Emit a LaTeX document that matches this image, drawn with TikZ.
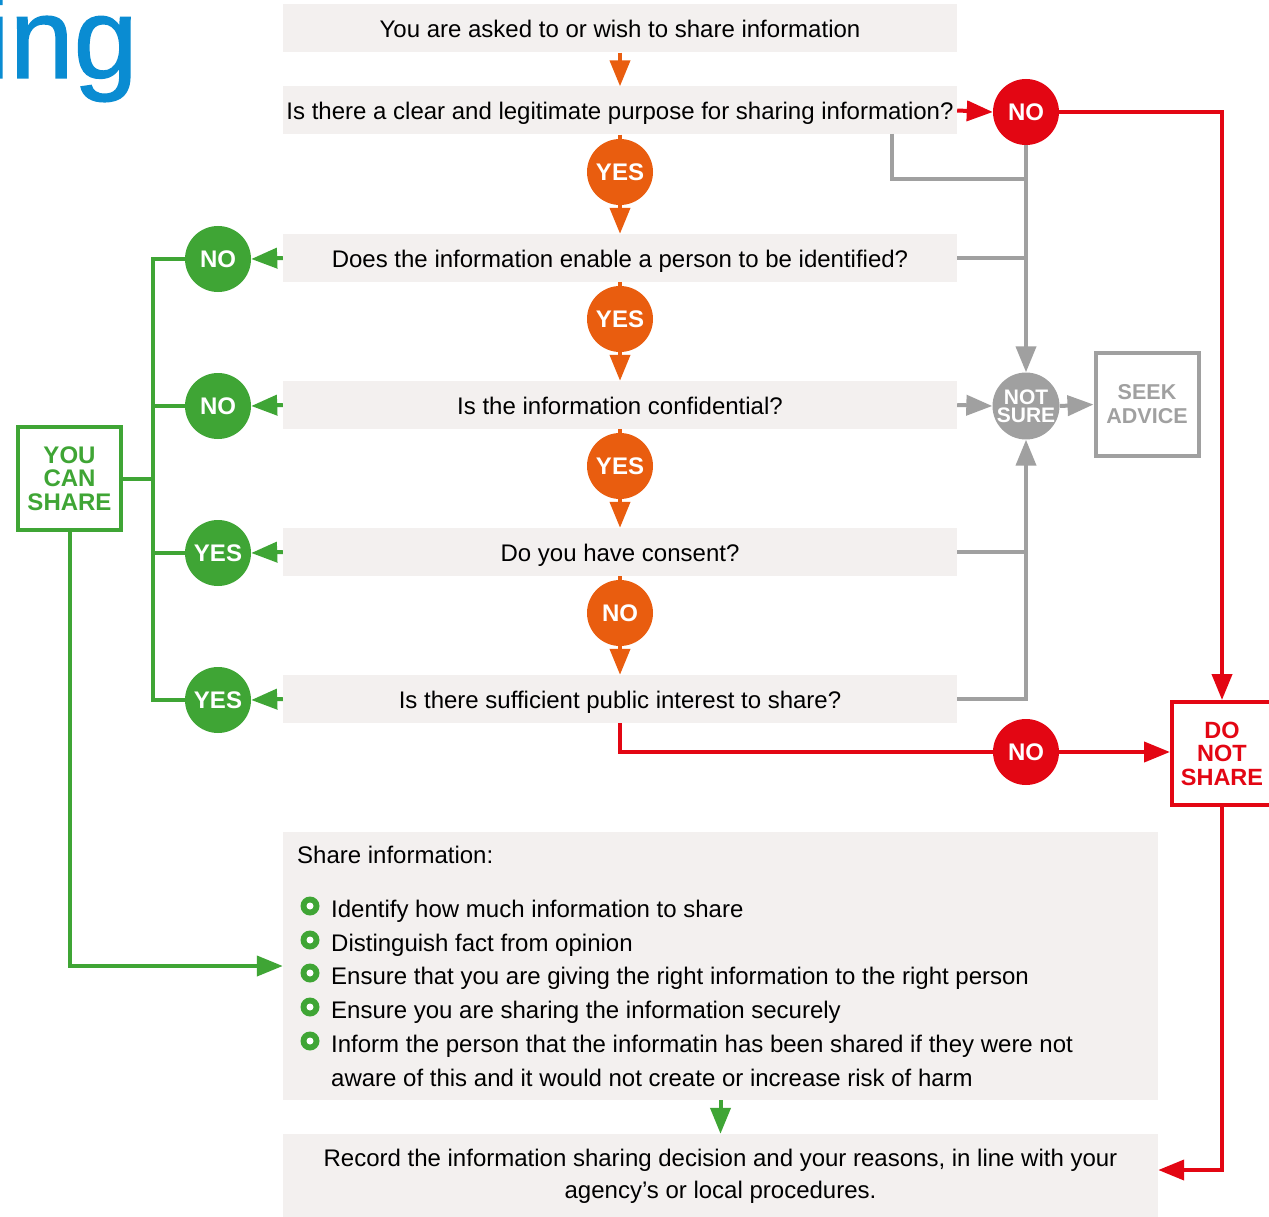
\documentclass[tikz,border=0pt]{standalone}
\usepackage{fontspec}
\setmainfont{Liberation Sans}
\newfontfamily\ingfont[FakeBold=1.2]{Liberation Sans}
\usetikzlibrary{arrows.meta}
\definecolor{qbg}{HTML}{F3F0EF}
\definecolor{org}{HTML}{E95D0F}
\definecolor{rd}{HTML}{E30613}
\definecolor{gn}{HTML}{3FA535}
\definecolor{gy}{HTML}{A0A0A0}
\definecolor{bl}{HTML}{0A8CD2}
\tikzset{
  qbox/.style={fill=qbg, minimum width=674pt, minimum height=48pt, inner sep=0pt, text height=23pt, text depth=4pt, font=\fontsize{24}{28}\selectfont},
  circ/.style={circle, minimum size=66pt, inner sep=0pt, text=white, font=\bfseries\fontsize{24}{24}\selectfont},
  lw/.style={line width=4pt},
  arr/.style={-{Triangle[length=26pt,width=20pt]}},
  sqbox/.style={draw, line width=4pt, minimum width=103pt, minimum height=103pt, inner sep=0pt, align=center, font=\bfseries\fontsize{23.5}{23.5}\selectfont},
  btxt/.style={anchor=base west, inner sep=0pt, font=\fontsize{24}{28}\selectfont},
  bul/.style={circle, fill=gn, minimum size=19pt, inner sep=0pt},
  bulin/.style={circle, fill=white, minimum size=7pt, inner sep=0pt}
}
\begin{document}
\begin{tikzpicture}[x=1pt,y=-1pt]
\useasboundingbox (0,0) rectangle (1269,1217);
\clip (0,0) rectangle (1269,1217);
\fill[white] (0,0) rectangle (1269,1217);
\node[anchor=base west, inner sep=0pt, text=bl, font=\ingfont\fontsize{115}{115}\selectfont] (ing) at (-16,78) {ing};

% question boxes
\node[qbox] (q1) at (620,28.5) {You are asked to or wish to share information};
\node[qbox] (q2) at (620,110.5) {Is there a clear and legitimate purpose for sharing information?};
\node[qbox] (q3) at (620,258) {Does the information enable a person to be identified?};
\node[qbox] (q4) at (620,405) {Is the information confidential?};
\node[qbox] (q5) at (620,552) {Do you have consent?};
\node[qbox] (q6) at (620,699) {Is there sufficient public interest to share?};

% orange circles
\node[circ, fill=org] (y1) at (620,172) {YES};
\node[circ, fill=org] (y2) at (620,319) {YES};
\node[circ, fill=org] (y3) at (620,466) {YES};
\node[circ, fill=org] (n4) at (620,613) {NO};
\draw[org, lw, arr] (q1.south) -- (q2.north);
\draw[org, lw] (q2.south) -- (y1.north);
\draw[org, lw, arr] (y1.south) -- (q3.north);
\draw[org, lw] (q3.south) -- (y2.north);
\draw[org, lw, arr] (y2.south) -- (q4.north);
\draw[org, lw] (q4.south) -- (y3.north);
\draw[org, lw, arr] (y3.south) -- (q5.north);
\draw[org, lw] (q5.south) -- (n4.north);
\draw[org, lw, arr] (n4.south) -- (q6.north);

% red
\node[circ, fill=rd] (rn1) at (1026,112) {NO};
\node[circ, fill=rd] (rn2) at (1026,752) {NO};
\node[sqbox, draw=rd, text=rd, minimum width=100pt] (dns) at (1222,753.5) {DO\\NOT\\SHARE};
\draw[rd, lw, arr] (q2.east) -- (rn1.west);
\draw[rd, lw, arr] (rn1.east) -- (1222,112) -- (dns.north);
\draw[rd, lw] (q6.south) -- (620,752) -- (rn2.west);
\draw[rd, lw, arr] (rn2.east) -- (rn2.east -| dns.west);

% gray
\node[circ, fill=gy, font=\bfseries\fontsize{21}{18}\selectfont, align=center] (ns) at (1026,406) {NOT\\SURE};
\node[sqbox, draw=gy, text=gy, font=\bfseries\fontsize{21.5}{24}\selectfont] (seek) at (1147,404.5) {SEEK\\ADVICE};
\coordinate (g1) at (892,134);
\draw[gy, lw] (g1) -- (892,179) -- (1026,179);
\draw[gy, lw, arr] (rn1.south) -- (ns.north);
\draw[gy, lw] (q3.east) -- (q3.east -| ns);
\draw[gy, lw, arr] (q4.east) -- (ns.west);
\draw[gy, lw, arr] (ns.east) -- (seek.west);
\draw[gy, lw] (q5.east) -- (q5.east -| ns);
\draw[gy, lw, arr] (q6.east) -- (q6.east -| ns) -- (ns.south);

% green
\node[circ, fill=gn] (gn1) at (218,259) {NO};
\node[circ, fill=gn] (gn2) at (218,406) {NO};
\node[circ, fill=gn] (gn3) at (218,553) {YES};
\node[circ, fill=gn] (gn4) at (218,700) {YES};
\node[sqbox, draw=gn, text=gn, font=\bfseries\fontsize{24}{23.5}\selectfont] (ycs) at (69.5,478.5) {YOU\\CAN\\SHARE};
\draw[gn, lw, arr] (q3.west) -- (gn1.east);
\draw[gn, lw, arr] (q4.west) -- (gn2.east);
\draw[gn, lw, arr] (q5.west) -- (gn3.east);
\draw[gn, lw, arr] (q6.west) -- (gn4.east);
\draw[gn, lw] (gn1.west) -- (153,259) -- (153,700) -- (gn4.west);
\draw[gn, lw] (gn2.west) -- (153,406);
\draw[gn, lw] (gn3.west) -- (153,553);
\draw[gn, lw] (ycs.east) -- (153,478.5);

% share box
\node[fill=qbg, minimum width=875pt, minimum height=268pt, inner sep=0pt] (share) at (720.5,966) {};
\draw[gn, lw, arr] (ycs.south) -- (69.5,966) -- (share.west);
\node[btxt] (sh0) at (297,863) {Share information:};
\foreach \yy/\tt [count=\i] in {908/Identify how much information to share,
  942/Distinguish fact from opinion,
  975/Ensure that you are giving the right information to the right person,
  1009/Ensure you are sharing the information securely,
  1043/Inform the person that the informatin has been shared if they were not}{
  \node[bul] (b\i) at (310,\yy-2) {};
  \node[bulin] (bi\i) at (310,\yy-2) {};
  \node[btxt] (t\i) at (331,\yy+9) {\tt};
}
\node[btxt] (t6) at (331,1086) {aware of this and it would not create or increase risk of harm};

% record box
\node[fill=qbg, minimum width=875pt, minimum height=84pt, inner sep=0pt, align=center, font=\fontsize{24}{32}\selectfont] (rec) at (720.5,1176) {Record the information sharing decision and your reasons, in line with your\\agency’s or local procedures.};
\draw[gn, lw, arr] (share.south) -- (rec.north);
\coordinate (rc) at (1222,1170);
\draw[rd, lw, arr] (dns.south) -- (rc) -- (rc -| rec.east);
\end{tikzpicture}
\end{document}
